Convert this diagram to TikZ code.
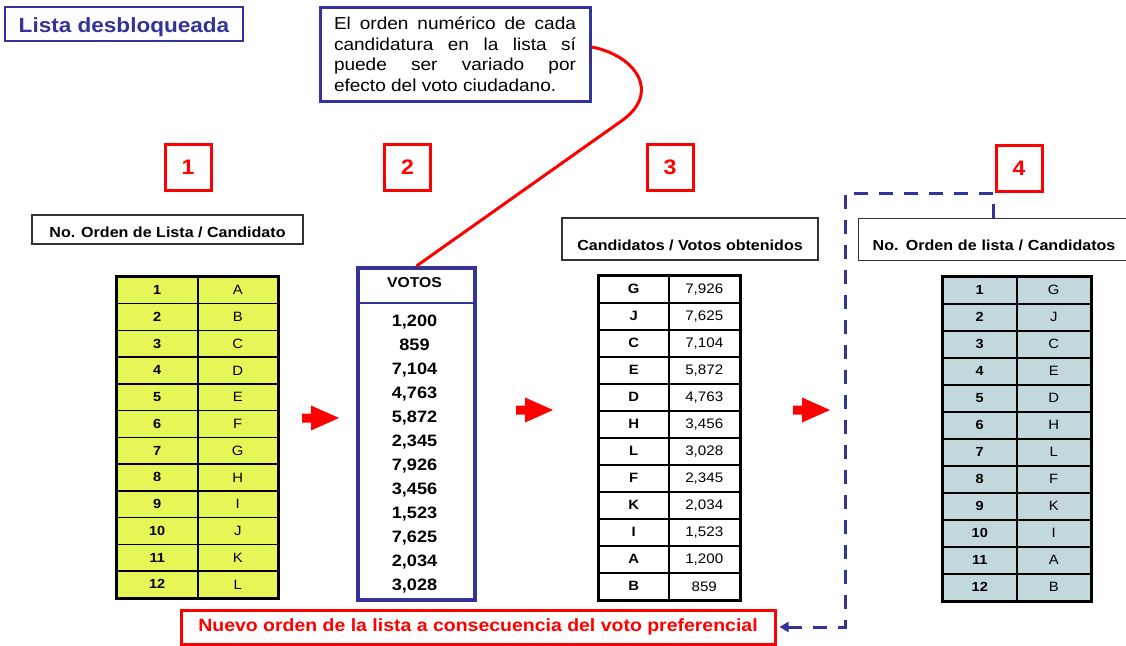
\documentclass[tikz,border=0pt]{standalone}
\usepackage{fontspec}
\setmainfont{Liberation Sans}[FakeStretch=1.1]
\usetikzlibrary{arrows.meta}
\definecolor{navy}{RGB}{51,51,153}
\definecolor{lime}{RGB}{230,246,86}
\definecolor{bluegrey}{RGB}{194,216,220}
\definecolor{pured}{RGB}{255,0,0}
\newcommand{\myfs}[2]{\fontsize{#1}{#2}\selectfont}
\begin{document}
\begin{tikzpicture}[x=1pt,y=-1pt,
  numbox/.style={draw=pured, line width=3, minimum size=46, inner sep=0, text=pured, font=\bfseries\myfs{21}{24}},
  hdr/.style={draw=black!80, line width=1.3, inner sep=0, font=\bfseries\myfs{14.6}{17}, text depth=0pt},
  cellbase/.style={draw=black, line width=1.5, inner sep=0, anchor=north west},
  nummono/.style={font=\bfseries\myfs{13.2}{15}},
  letmono/.style={font=\myfs{13.5}{15}},
  outerframe/.style={draw=black, line width=3},
  redarrow/.pic={\fill[pured] (0,-4.5) -- (9,-4.5) -- (9,-12.5) -- (37,0) -- (9,12.5) -- (9,4.5) -- (0,4.5) -- cycle;}
]
\useasboundingbox (0,0) rectangle (1126,645);
\fill[white] (0,0) rectangle (1126,645);

% title
\node[draw=navy, line width=1.5, minimum width=238, minimum height=34, inner sep=0,
      text=navy, font=\bfseries\myfs{20.5}{24}, text height=16.5pt, text depth=0pt] (title) at (124,24) {Lista desbloqueada};

% callout
\node[draw=navy, line width=3, text width=242, inner xsep=14, inner ysep=0, minimum height=94,
      align=justify, font=\myfs{17.3}{20.5}] (callout) at (455,54)
  {El orden numérico de cada\linebreak candidatura en la lista sí\linebreak puede ser variado por\linebreak efecto del voto ciudadano.};

% step numbers
\node[numbox] (n1) at (188,167) {1};
\node[numbox] (n2) at (407.5,167) {2};
\node[numbox] (n3) at (670,167) {3};
\node[numbox] (n4) at (1019,168) {4};

% headers
\node[hdr, minimum width=271, minimum height=29, text height=15pt] (h1) at (167.5,229.5) {No. Orden de Lista / Candidato};
\node[hdr, minimum width=256, minimum height=42, text height=22pt] (h3) at (690,239) {Candidatos / Votos obtenidos};
\begin{scope}
\clip (0,0) rectangle (1126,645);
\node[hdr, anchor=north west, text width=270, align=left, inner xsep=14, minimum height=42, text height=22pt] (h4) at (858,218) {No. Orden de lista / Candidatos};
\end{scope}

% table 1
\foreach \l [count=\i] in {A,B,C,D,E,F,G,H,I,J,K,L} {
  \node[cellbase, fill=lime, minimum width=81, minimum height=26.75, nummono] (ta\i) at (116,{276+26.75*(\i-1)}) {\i};
  \node[cellbase, fill=lime, minimum width=80, minimum height=26.75, letmono] (tb\i) at (197,{276+26.75*(\i-1)}) {\l};
}
\draw[outerframe] (ta1.north west) rectangle (tb12.south east);

% votes column
\node[draw=navy, line width=4, minimum width=117, minimum height=332, inner sep=0, anchor=north west] (votes) at (356,266) {};
\draw[navy, line width=2.5] (votes.west |- 0,303) -- (votes.east |- 0,303);
\node[anchor=base, font=\bfseries\myfs{14.3}{16}] (vh) at (414.5,287.5) {VOTOS};
\foreach \v [count=\i] in {{1,200},{859},{7,104},{4,763},{5,872},{2,345},{7,926},{3,456},{1,523},{7,625},{2,034},{3,028}} {
  \node[anchor=base, font=\bfseries\myfs{16.5}{18}] (v\i) at (414.5,{326+24*(\i-1)}) {\v};
}

% table 3
\foreach \c/\v [count=\i] in {G/{7,926},J/{7,625},C/{7,104},E/{5,872},D/{4,763},H/{3,456},L/{3,028},F/{2,345},K/{2,034},I/{1,523},A/{1,200},B/{859}} {
  \node[cellbase, fill=white, minimum width=70, minimum height=27, font=\bfseries\myfs{13.5}{15}] (tc\i) at (598,{275+27*(\i-1)}) {\c};
  \node[cellbase, fill=white, minimum width=71, minimum height=27, font=\myfs{13.8}{15}] (td\i) at (668,{275+27*(\i-1)}) {\v};
}
\draw[outerframe] (tc1.north west) rectangle (td12.south east);

% table 4
\foreach \l [count=\i] in {G,J,C,E,D,H,L,F,K,I,A,B} {
  \node[cellbase, fill=bluegrey, minimum width=74, minimum height=27, nummono] (te\i) at (942,{276+27*(\i-1)}) {\i};
  \node[cellbase, fill=bluegrey, minimum width=74, minimum height=27, letmono] (tf\i) at (1016,{276+27*(\i-1)}) {\l};
}
\draw[outerframe] (te1.north west) rectangle (tf12.south east);

% red block arrows
\pic at (302,418) {redarrow};
\pic at (516,410) {redarrow};
\pic at (793,410) {redarrow};

% bottom label
\node[draw=pured, line width=3, minimum width=594, minimum height=34, inner sep=0,
      text=pured, font=\bfseries\myfs{17.7}{19}] (newlist) at (478,627) {Nuevo orden de la lista a consecuencia del voto preferencial};

% connectors
\draw[pured, line width=3] ([yshift=7pt]callout.east) .. controls (635,55) and (663,93) .. (620,122) -- (votes.north);
\coordinate (d0) at (993,218);
\draw[navy, line width=3, dash pattern=on 14pt off 11pt, -{Triangle[length=9pt,width=10pt]}]
  (d0) -- (993,193) -- (845,193) -- (845,627) -- ([xshift=3pt]newlist.east);
\end{tikzpicture}
\end{document}
